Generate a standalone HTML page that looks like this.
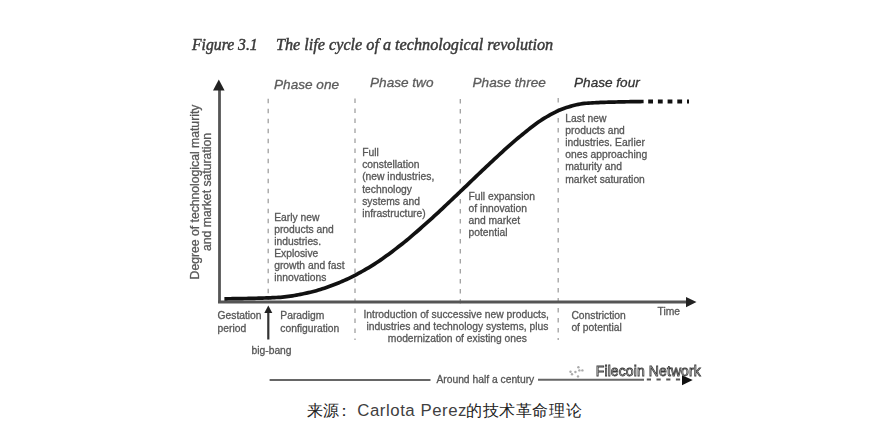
<!DOCTYPE html>
<html><head><meta charset="utf-8">
<style>
html,body{margin:0;padding:0;background:#fff;}
body{width:871px;height:442px;overflow:hidden;position:relative;}
svg{position:absolute;left:0;top:0;filter:blur(0.55px);}
svg.c{filter:none;}
.t{font-family:"Liberation Sans",sans-serif;font-size:10.3px;fill:#575757;stroke:#575757;stroke-width:0.3px;}
.ph{font-family:"Liberation Sans",sans-serif;font-size:13.6px;font-style:italic;fill:#5c5c5c;stroke:#5c5c5c;stroke-width:0.3px;}
</style></head><body>
<svg width="871" height="442" viewBox="0 0 871 442">
<g font-family="Liberation Serif" font-style="italic" fill="#3a3a3a" stroke="#3a3a3a" stroke-width="0.45">
<text x="192" y="49.6" font-size="15.7">Figure 3.1</text>
<text x="276" y="49.6" font-size="16.2">The life cycle of a technological revolution</text>
</g>
<text class="ph" x="274" y="88.5">Phase one</text>
<text class="ph" x="370" y="87">Phase two</text>
<text class="ph" x="472.5" y="87.2">Phase three</text>
<text class="ph" x="574" y="87.2" style="fill:#333;stroke:#333">Phase four</text>
<!-- dashed verticals -->
<g stroke="#a0a0a0" stroke-width="1.3" stroke-dasharray="4.6 5.4">
<line x1="268.2" y1="98.7" x2="268.2" y2="300"/>
<line x1="355" y1="98.5" x2="355" y2="340"/>
<line x1="460.3" y1="99" x2="460.3" y2="309"/>
<line x1="558.2" y1="98" x2="558.2" y2="340"/>
</g>
<!-- axes -->
<line x1="219.5" y1="89" x2="219.5" y2="303" stroke="#555" stroke-width="2.8"/>
<polygon points="213,90.5 224.6,90.5 218.8,79.5" fill="#222"/>
<line x1="218" y1="302" x2="688" y2="302" stroke="#555" stroke-width="2.8"/>
<polygon points="686,296.9 686,307.2 696.5,302" fill="#222"/>
<!-- curve -->
<path d="M224.4,298.80 L226.4,298.79 L228.4,298.77 L230.4,298.75 L232.4,298.72 L234.4,298.69 L236.4,298.66 L238.4,298.63 L240.4,298.59 L242.4,298.56 L244.4,298.52 L246.4,298.48 L248.4,298.43 L250.4,298.39 L252.4,298.35 L254.4,298.30 L256.4,298.25 L258.4,298.20 L260.4,298.14 L262.4,298.08 L264.4,298.01 L266.4,297.94 L268.4,297.87 L270.4,297.79 L272.4,297.70 L274.4,297.61 L276.4,297.50 L278.4,297.39 L280.4,297.28 L282.4,297.13 L284.4,296.94 L286.4,296.71 L288.4,296.46 L290.4,296.17 L292.4,295.85 L294.4,295.51 L296.4,295.15 L298.4,294.76 L300.4,294.36 L302.4,293.95 L304.4,293.52 L306.4,293.08 L308.4,292.64 L310.4,292.20 L312.4,291.72 L314.4,291.21 L316.4,290.67 L318.4,290.09 L320.4,289.48 L322.4,288.84 L324.4,288.17 L326.4,287.48 L328.4,286.77 L330.4,286.03 L332.4,285.28 L334.4,284.51 L336.4,283.72 L338.4,282.93 L340.4,282.12 L342.4,281.28 L344.4,280.41 L346.4,279.51 L348.4,278.57 L350.4,277.61 L352.4,276.61 L354.4,275.59 L356.4,274.54 L358.4,273.47 L360.4,272.37 L362.4,271.25 L364.4,270.12 L366.4,268.96 L368.4,267.79 L370.4,266.60 L372.4,265.38 L374.4,264.12 L376.4,262.82 L378.4,261.49 L380.4,260.12 L382.4,258.73 L384.4,257.31 L386.4,255.86 L388.4,254.39 L390.4,252.91 L392.4,251.40 L394.4,249.88 L396.4,248.35 L398.4,246.81 L400.4,245.26 L402.4,243.69 L404.4,242.09 L406.4,240.46 L408.4,238.81 L410.4,237.13 L412.4,235.44 L414.4,233.72 L416.4,231.99 L418.4,230.24 L420.4,228.49 L422.4,226.72 L424.4,224.94 L426.4,223.16 L428.4,221.38 L430.4,219.59 L432.4,217.79 L434.4,215.97 L436.4,214.14 L438.4,212.29 L440.4,210.43 L442.4,208.56 L444.4,206.67 L446.4,204.78 L448.4,202.89 L450.4,200.99 L452.4,199.09 L454.4,197.19 L456.4,195.29 L458.4,193.40 L460.4,191.51 L462.4,189.61 L464.4,187.70 L466.4,185.79 L468.4,183.87 L470.4,181.95 L472.4,180.02 L474.4,178.10 L476.4,176.17 L478.4,174.26 L480.4,172.34 L482.4,170.44 L484.4,168.54 L486.4,166.66 L488.4,164.79 L490.4,162.94 L492.4,161.08 L494.4,159.23 L496.4,157.37 L498.4,155.51 L500.4,153.66 L502.4,151.81 L504.4,149.98 L506.4,148.16 L508.4,146.36 L510.4,144.57 L512.4,142.82 L514.4,141.08 L516.4,139.38 L518.4,137.71 L520.4,136.08 L522.4,134.45 L524.4,132.83 L526.4,131.21 L528.4,129.61 L530.4,128.03 L532.4,126.48 L534.4,124.96 L536.4,123.49 L538.4,122.07 L540.4,120.70 L542.4,119.40 L544.4,118.16 L546.4,116.99 L548.4,115.84 L550.4,114.70 L552.4,113.61 L554.4,112.55 L556.4,111.54 L558.4,110.60 L560.4,109.72 L562.4,108.93 L564.4,108.22 L566.4,107.59 L568.4,106.98 L570.4,106.39 L572.4,105.83 L574.4,105.30 L576.4,104.82 L578.4,104.38 L580.4,104.01 L582.4,103.70 L584.4,103.46 L586.4,103.28 L588.4,103.12 L590.4,102.98 L592.4,102.86 L594.4,102.75 L596.4,102.64 L598.4,102.55 L600.4,102.47 L602.4,102.39 L604.4,102.32 L606.4,102.25 L608.4,102.19 L610.4,102.13 L612.4,102.08 L614.4,102.03 L616.4,101.98 L618.4,101.94 L620.4,101.89 L622.4,101.85 L624.4,101.81 L626.4,101.77 L628.4,101.74 L630.4,101.70 L632.4,101.66 L634.4,101.63 L636.4,101.60 L638.4,101.57 L640.4,101.54 L642.4,101.51 L643.6,101.50" fill="none" stroke="#111" stroke-width="3.7" stroke-linejoin="round"/>
<line x1="648.2" y1="101.5" x2="689" y2="101.5" stroke="#111" stroke-width="4" stroke-dasharray="4.8 4.9"/>
<!-- y label -->
<g class="t" style="font-size:12.2px" text-anchor="middle">
<text transform="translate(199,192) rotate(-90)">Degree of technological maturity</text>
<text transform="translate(210.9,192) rotate(-90)">and market saturation</text>
</g>
<!-- text blocks -->
<text class="t"><tspan x="274.2" y="221.1">Early new</tspan><tspan x="274.2" y="233.1">products and</tspan><tspan x="274.2" y="245.1">industries.</tspan><tspan x="274.2" y="257.1">Explosive</tspan><tspan x="274.2" y="269.1">growth and fast</tspan><tspan x="274.2" y="281.1">innovations</tspan></text>
<text class="t"><tspan x="362.2" y="156.1">Full</tspan><tspan x="362.2" y="168.3">constellation</tspan><tspan x="362.2" y="180.4">(new industries,</tspan><tspan x="362.2" y="192.5">technology</tspan><tspan x="362.2" y="204.7">systems and</tspan><tspan x="362.2" y="216.9">infrastructure)</tspan></text>
<text class="t"><tspan x="468.5" y="200.3">Full expansion</tspan><tspan x="468.5" y="212.3">of innovation</tspan><tspan x="468.5" y="224.3">and market</tspan><tspan x="468.5" y="236.3">potential</tspan></text>
<text class="t"><tspan x="565.3" y="122.2">Last new</tspan><tspan x="565.3" y="134.3">products and</tspan><tspan x="565.3" y="146.3">industries. Earlier</tspan><tspan x="565.3" y="158.4">ones approaching</tspan><tspan x="565.3" y="170.4">maturity and</tspan><tspan x="565.3" y="182.5">market saturation</tspan></text>
<!-- bottom -->
<text class="t"><tspan x="217.5" y="319">Gestation</tspan><tspan x="217.5" y="331.6">period</tspan></text>
<line x1="268.3" y1="311" x2="268.3" y2="339.5" stroke="#333" stroke-width="2.2"/>
<polygon points="264.3,313 272.3,313 268.3,305.5" fill="#222"/>
<text class="t" x="251.5" y="354">big-bang</text>
<text class="t"><tspan x="280.3" y="319">Paradigm</tspan><tspan x="280.3" y="331.6">configuration</tspan></text>
<text class="t" text-anchor="middle"><tspan x="456.2" y="318">Introduction of successive new products,</tspan><tspan x="457.4" y="330">industries and technology systems, plus</tspan><tspan x="457.4" y="342">modernization of existing ones</tspan></text>
<text class="t"><tspan x="571.4" y="319.0">Constriction</tspan><tspan x="571.4" y="331.0">of potential</tspan></text>
<text class="t" x="657.5" y="314.6">Time</text>
<line x1="269.6" y1="380" x2="430.5" y2="380" stroke="#666" stroke-width="2"/>
<text class="t" x="436.4" y="382.8">Around half a century</text>
<line x1="538" y1="379.7" x2="644" y2="379.7" stroke="#666" stroke-width="2"/>
<line x1="646.8" y1="379.6" x2="682" y2="379.6" stroke="#555" stroke-width="2" stroke-dasharray="4.2 5.5"/>
<polygon points="682,375.2 682,385.3 692.7,380" fill="#111"/>

<!-- watermark -->
<text x="595.8" y="376" font-family="Liberation Sans" font-size="14" letter-spacing="0.1" fill="#eee" stroke="#3a3a3a" stroke-width="0.8">Filecoin Network</text>

<g fill="#aaa"><circle cx="570.5" cy="371.7" r="1.2"/><circle cx="572" cy="374.2" r="1.2"/><circle cx="578.4" cy="367.2" r="1.2"/><circle cx="579.4" cy="370.4" r="1.2"/><circle cx="582.4" cy="370.4" r="1.2"/><circle cx="575.4" cy="372" r="1.2"/><circle cx="578" cy="376.4" r="1.2"/></g>
</svg>
<svg class="c" width="871" height="442" viewBox="0 0 871 442">
<g font-family="Liberation Sans,sans-serif" fill="#222" style="font-weight:300">
<text x="306.5" y="416" font-size="16" letter-spacing="0.6">来源</text><text x="335.5" y="416" font-size="16">：</text>
<text x="357.3" y="415.6" font-size="16.8" letter-spacing="0.55" fill="#404040">Carlota Perez</text>
<text x="466" y="416" font-size="16.3" letter-spacing="0.6">的技术革命理论</text>
</g>
</svg>

</body></html>
